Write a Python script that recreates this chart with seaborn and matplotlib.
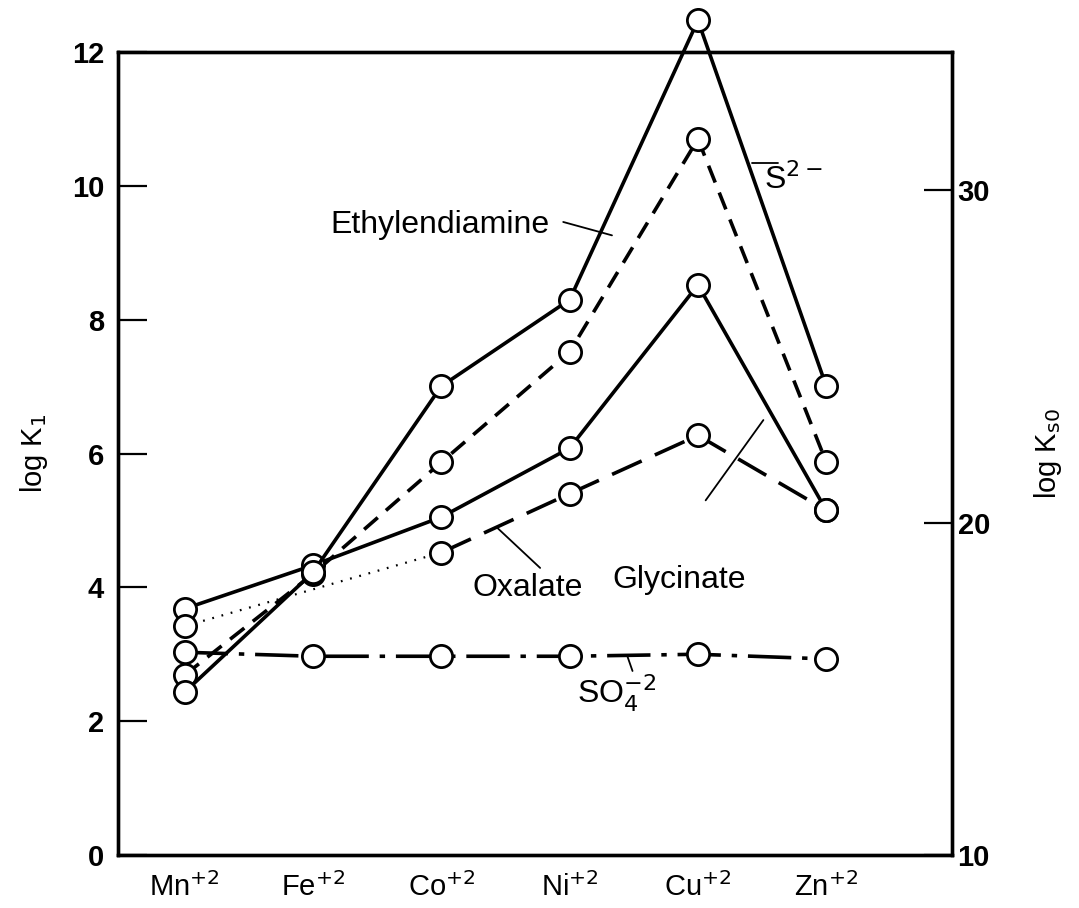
import numpy as np
import pandas as pd
import matplotlib
matplotlib.use("Agg")
import matplotlib.pyplot as plt
import seaborn as sns

# ---- data ----
ions = ["Mn$^{+2}$", "Fe$^{+2}$", "Co$^{+2}$", "Ni$^{+2}$", "Cu$^{+2}$", "Zn$^{+2}$"]
# log K1 (left axis)
glycinate = [3.68, 4.33, 5.05, 6.08, 8.52, 5.15]
ethylenediamine = [2.69, 4.20, 5.87, 7.52, 10.70, 5.87]
oxalate = [3.42, np.nan, 4.52, 5.40, 6.27, 5.15]
sulfate = [3.03, 2.97, 2.97, 2.97, 3.00, 2.93]
# log Ks0 (right axis)
sulfide = [14.9, 18.5, 24.1, 26.7, 35.1, 24.1]

x = np.arange(len(ions))
df = pd.DataFrame({"x": x, "gly": glycinate, "en": ethylenediamine,
                   "ox": oxalate, "so4": sulfate, "s2": sulfide})

sns.set_style("white")
plt.rcParams["font.family"] = ["Liberation Sans", "DejaVu Sans"]
for k in ["text.color", "axes.labelcolor", "xtick.color", "ytick.color"]:
    plt.rcParams[k] = "black"

fig = plt.figure(figsize=(10.79, 9.08), dpi=100)
ax = fig.add_axes([118 / 1079, 1 - 855 / 908, (952 - 118) / 1079, (855 - 52) / 908])
ax2 = ax.twinx()

lw = 2.6
mk = dict(marker="o", markersize=16, markerfacecolor="white",
          markeredgecolor="black", markeredgewidth=2.0)

# lines
sns.lineplot(data=df, x="x", y="gly", ax=ax, color="black", lw=lw, zorder=3)
sns.lineplot(data=df, x="x", y="en", ax=ax, color="black", lw=lw,
             linestyle=(0, (5, 3)), zorder=3)
ox = df.dropna(subset=["ox"])
sns.lineplot(data=ox.iloc[1:], x="x", y="ox", ax=ax, color="black", lw=lw,
             linestyle=(0, (9, 4)), zorder=3)
sns.lineplot(data=ox.iloc[:2], x="x", y="ox", ax=ax, color="black", lw=1.6,
             linestyle=(0, (0.8, 3.5)), zorder=3)
sns.lineplot(data=df, x="x", y="so4", ax=ax, color="black", lw=lw,
             linestyle=(0, (12, 3, 1.5, 3)), zorder=3)
sns.lineplot(data=df, x="x", y="s2", ax=ax2, color="black", lw=lw, zorder=3,
             clip_on=False)

# open circle markers on top
for col in ["gly", "en", "ox", "so4"]:
    d = df.dropna(subset=[col])
    ax.plot(d["x"], d[col], linestyle="none", zorder=5, clip_on=False, **mk)
ax2.plot(df["x"], df["s2"], linestyle="none", zorder=5, clip_on=False, **mk)

# axes
ax.set_xlim(-0.52, 5.98)
ax.set_ylim(0, 12)
ax2.set_ylim(10, 10 + 803 / 33.25)
ax.set_xticks(x)
ax.set_xticklabels(ions, fontsize=21)
ax.set_yticks([0, 2, 4, 6, 8, 10, 12])
ax.set_yticklabels([0, 2, 4, 6, 8, 10, 12], fontsize=21, fontweight="bold")
ax2.set_yticks([10, 20, 30])
ax2.set_yticklabels([10, 20, 30], fontsize=21, fontweight="bold")
ax.set_xlabel("")
ax.set_ylabel("log K$_1$", fontsize=21, labelpad=16)
ax2.set_ylabel("log K$_{\\mathrm{s0}}$", fontsize=21, labelpad=30)

ax.tick_params(axis="x", direction="in", length=11, width=1.6, pad=12)
ax.tick_params(axis="y", direction="in", length=21, width=1.6, pad=10)
ax2.tick_params(axis="y", direction="in", length=20, width=1.6, pad=4)
for a in (ax, ax2):
    for s in a.spines.values():
        s.set_linewidth(2.4)
        s.set_color("black")

# labels with leader lines
ax.text(1.99, 9.41, "Ethylendiamine", fontsize=23, ha="center", va="center")
ax.plot([2.95, 3.33], [9.46, 9.26], color="black", lw=1.3)
ax.text(4.74, 10.09, "S$^{2-}$", fontsize=23, ha="center", va="center")
ax.plot([4.42, 4.62], [10.34, 10.34], color="black", lw=1.3)
ax.text(3.85, 4.11, "Glycinate", fontsize=23, ha="center", va="center")
ax.plot([4.06, 4.51], [5.3, 6.5], color="black", lw=1.3)
ax.text(2.67, 3.99, "Oxalate", fontsize=23, ha="center", va="center")
ax.plot([2.43, 2.77], [4.9, 4.29], color="black", lw=1.3)
ax.text(3.37, 2.42, "SO$_4^{-2}$", fontsize=23, ha="center", va="center")
ax.plot([3.45, 3.49], [2.97, 2.75], color="black", lw=1.3)

fig.savefig("out.png", dpi=100)
